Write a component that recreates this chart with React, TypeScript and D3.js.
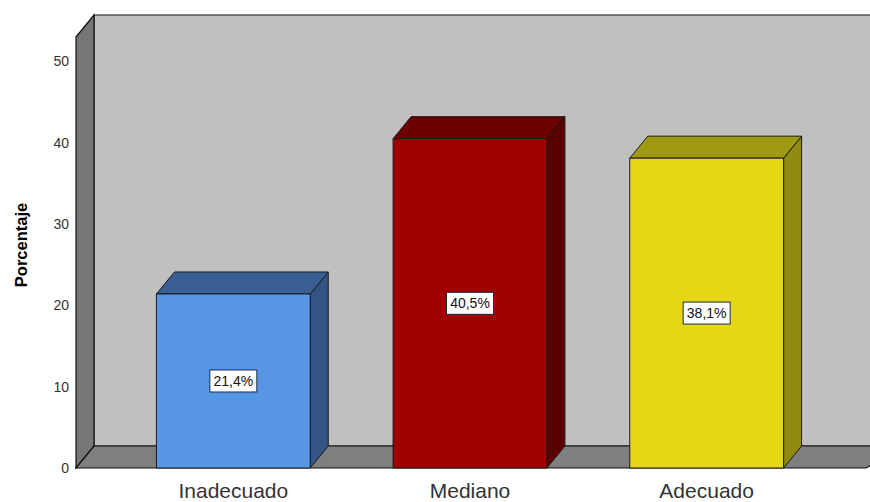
import React from "react";
import * as d3 from "d3";

const categories = ["Inadecuado", "Mediano", "Adecuado"];
const values = [21.4, 40.5, 38.1];
const valueLabels = ["21,4%", "40,5%", "38,1%"];
const yTicks = [0, 10, 20, 30, 40, 50];
const frontColors = ["#5696e4", "#a10000", "#e5d716"];
const topColors = ["#3a5f95", "#6c0000", "#a09a12"];
const sideColors = ["#335586", "#5a0000", "#8f8a10"];

const W = 870;
const H = 502;
const DX = 18;
const DY = 22;

export default function App() {
  const y = d3.scaleLinear().domain([0, 53]).range([468, 37]);
  const x = d3
    .scaleBand<string>()
    .domain(categories)
    .range([115, 825])
    .paddingInner(0.35)
    .paddingOuter(0.175);

  const y0 = y(0);
  const yMax = y(53);
  const left = 76;
  const right = 866;

  const pts = (a: number[][]) => a.map((p) => p.join(",")).join(" ");

  return (
    <svg
      width={W}
      height={H}
      style={{ position: "absolute", left: 0, top: 0, background: "#fff" }}
      fontFamily="'Liberation Sans', Arial, sans-serif"
    >
      {/* back wall */}
      <polygon
        points={pts([
          [left + DX, yMax - DY],
          [right + DX + 20, yMax - DY],
          [right + DX + 20, y0 - DY],
          [left + DX, y0 - DY],
        ])}
        fill="#c0c0c0"
        stroke="#111"
        strokeWidth={1.2}
      />
      {/* side wall */}
      <polygon
        points={pts([
          [left, yMax],
          [left + DX, yMax - DY],
          [left + DX, y0 - DY],
          [left, y0],
        ])}
        fill="#767676"
        stroke="#111"
        strokeWidth={1.2}
      />
      {/* floor */}
      <polygon
        points={pts([
          [left, y0],
          [left + DX, y0 - DY],
          [right + DX + 20, y0 - DY],
          [right, y0],
        ])}
        fill="#7f7f7f"
        stroke="#111"
        strokeWidth={1.2}
      />

      {/* y ticks */}
      {yTicks.map((t) => (
        <text
          key={t}
          x={69}
          y={y(t) + 5}
          textAnchor="end"
          fontSize={14}
          fill="#333"
        >
          {t}
        </text>
      ))}

      <text
        transform={`translate(27, ${245}) rotate(-90)`}
        textAnchor="middle"
        fontSize={16.5}
        fontWeight="bold"
        fill="#000"
      >
        Porcentaje
      </text>

      {/* bars */}
      {categories.map((c, i) => {
        const x0 = x(c)!;
        const x1 = x0 + x.bandwidth();
        const yt = y(values[i]);
        return (
          <g key={c} stroke="#1a1a1a" strokeWidth={1} strokeLinejoin="round">
            <polygon
              points={pts([
                [x1, yt],
                [x1 + DX, yt - DY],
                [x1 + DX, y0 - DY],
                [x1, y0],
              ])}
              fill={sideColors[i]}
            />
            <polygon
              points={pts([
                [x0, yt],
                [x1, yt],
                [x1 + DX, yt - DY],
                [x0 + DX, yt - DY],
              ])}
              fill={topColors[i]}
            />
            <rect x={x0} y={yt} width={x1 - x0} height={y0 - yt} fill={frontColors[i]} />
          </g>
        );
      })}

      {/* value labels */}
      {categories.map((c, i) => {
        const cx = x(c)! + x.bandwidth() / 2;
        const cy = (y(values[i]) + y0) / 2;
        const bw = 47;
        const bh = 22;
        return (
          <g key={"l" + c}>
            <rect
              x={cx - bw / 2}
              y={cy - bh / 2}
              width={bw}
              height={bh}
              fill="#fff"
              stroke="#1a2a4a"
              strokeWidth={1}
            />
            <text x={cx} y={cy + 5} textAnchor="middle" fontSize={14} fill="#111">
              {valueLabels[i]}
            </text>
          </g>
        );
      })}

      {/* category labels */}
      {categories.map((c) => (
        <text
          key={"c" + c}
          x={x(c)! + x.bandwidth() / 2}
          y={498}
          textAnchor="middle"
          fontSize={21}
          fill="#333"
        >
          {c}
        </text>
      ))}
    </svg>
  );
}
